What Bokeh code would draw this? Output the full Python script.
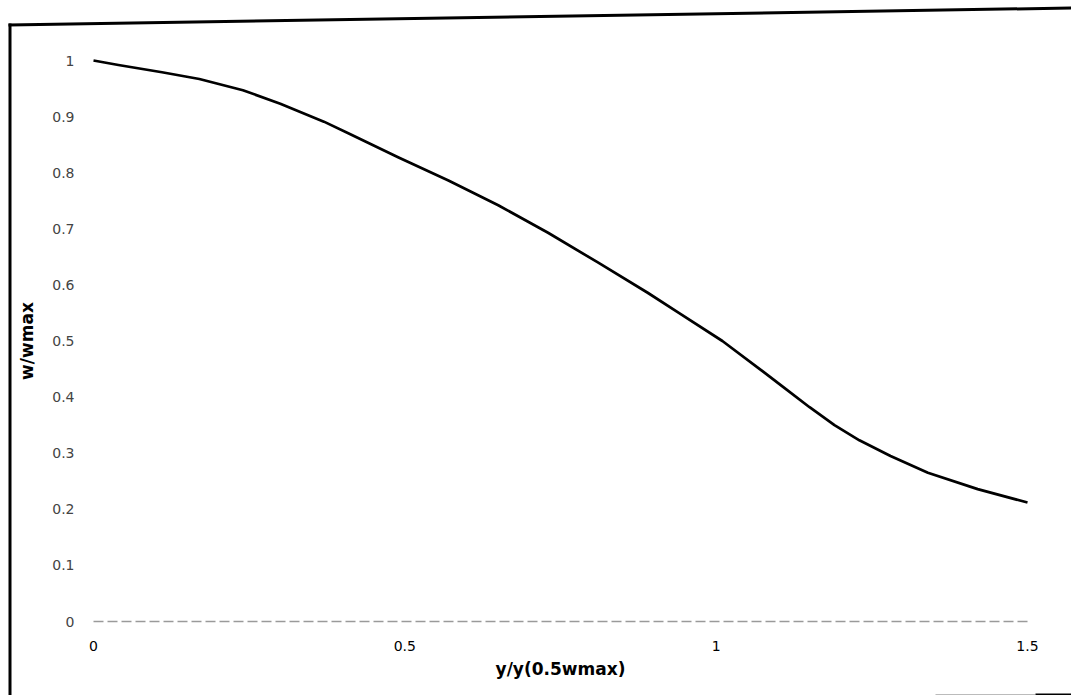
from bokeh.plotting import figure
from bokeh.models import Range1d, FixedTicker, LinearAxis
from bokeh.embed import file_html
from bokeh.resources import INLINE

# Normalised velocity profile: w/wmax against y/y(0.5 wmax)
ratio_y = [0, 0.04, 0.11, 0.17, 0.24, 0.30, 0.37, 0.41, 0.49, 0.57, 0.65, 0.73,
           0.81, 0.89, 0.94, 1.01, 1.07, 1.11, 1.15, 1.19, 1.23, 1.28, 1.34, 1.42, 1.5]
w_ratio = [1.0, 0.992, 0.979, 0.967, 0.947, 0.923, 0.891, 0.870, 0.827, 0.786, 0.742, 0.693,
           0.640, 0.586, 0.550, 0.500, 0.450, 0.416, 0.382, 0.350, 0.323, 0.295, 0.265, 0.236, 0.212]

x_ticks = [0, 0.5, 1, 1.5]
x_tick_labels = ["0", "0.5", "1", "1.5"]
y_ticks = [0, 0.1, 0.2, 0.3, 0.4, 0.5, 0.6, 0.7, 0.8, 0.9, 1.0]
y_tick_labels = ["0", "0.1", "0.2", "0.3", "0.4", "0.5", "0.6", "0.7", "0.8", "0.9", "1"]

W, H = 1071, 695
# the data area fills the canvas; the origin and unit lengths in pixels
ORIGIN_PX = (93.0, 621.0)
UNIT_PX = (622.67, 561.0)

x0 = -ORIGIN_PX[0] / UNIT_PX[0]
x1 = (W - ORIGIN_PX[0]) / UNIT_PX[0]
y1 = ORIGIN_PX[1] / UNIT_PX[1]
y0 = -(H - ORIGIN_PX[1]) / UNIT_PX[1]


def sx(px):
    return x0 + px / W * (x1 - x0)


def sy(py):
    return y1 - py / H * (y1 - y0)


p = figure(width=W, height=H, x_range=Range1d(x0, x1), y_range=Range1d(y0, y1),
           output_backend="svg", toolbar_location=None, min_border=0,
           x_axis_type=None, y_axis_type=None)
p.outline_line_color = None
p.background_fill_color = "white"
p.border_fill_color = "white"

FONT = "DejaVu Sans"

xaxis = LinearAxis(fixed_location=0, bounds=(0, 1.5),
                   ticker=FixedTicker(ticks=x_ticks),
                   major_label_overrides=dict(zip(x_ticks, x_tick_labels)))
xaxis.axis_label = "y/y(0.5wmax)"
xaxis.axis_label_text_font = FONT
xaxis.axis_label_text_font_style = "bold"
xaxis.axis_label_text_font_size = "17px"
xaxis.axis_label_text_color = "black"
xaxis.axis_label_standoff = 5
xaxis.major_label_text_font = FONT
xaxis.major_label_text_font_size = "14px"
xaxis.major_label_text_color = "black"
xaxis.major_label_standoff = 13
xaxis.major_tick_line_color = None
xaxis.minor_tick_line_color = None
xaxis.axis_line_color = "#9a9a9a"
xaxis.axis_line_dash = "10 4"
xaxis.axis_line_width = 1.5
p.add_layout(xaxis, "below")

yaxis = LinearAxis(fixed_location=0, bounds=(0, 1),
                   ticker=FixedTicker(ticks=y_ticks),
                   major_label_overrides=dict(zip(y_ticks, y_tick_labels)))
yaxis.axis_label = "w/wmax"
yaxis.axis_label_text_font = FONT
yaxis.axis_label_text_font_style = "bold"
yaxis.axis_label_text_font_size = "17px"
yaxis.axis_label_text_color = "black"
yaxis.axis_label_standoff = 12
yaxis.major_label_text_font = FONT
yaxis.major_label_text_font_size = "14px"
yaxis.major_label_text_color = "#444444"
yaxis.major_label_standoff = 13
yaxis.major_tick_line_color = None
yaxis.minor_tick_line_color = None
yaxis.axis_line_color = None
p.add_layout(yaxis, "left")

# profile curve
p.line(ratio_y, w_ratio, line_width=2.7, line_color="black", line_join="round")

# frame lines around the sheet
p.line([sx(9.5), sx(9.5)], [sy(23), sy(H)], line_width=3, line_color="black")
p.line([sx(8), sx(W)], [sy(24.5), sy(7.5)], line_width=3, line_color="black")
p.line([sx(935), sx(1035)], [sy(694), sy(694)], line_width=1, line_color="#bbbbbb")
p.line([sx(1035), sx(W)], [sy(694), sy(694)], line_width=2, line_color="black")

open("out.html", "w").write(file_html(p, INLINE))
